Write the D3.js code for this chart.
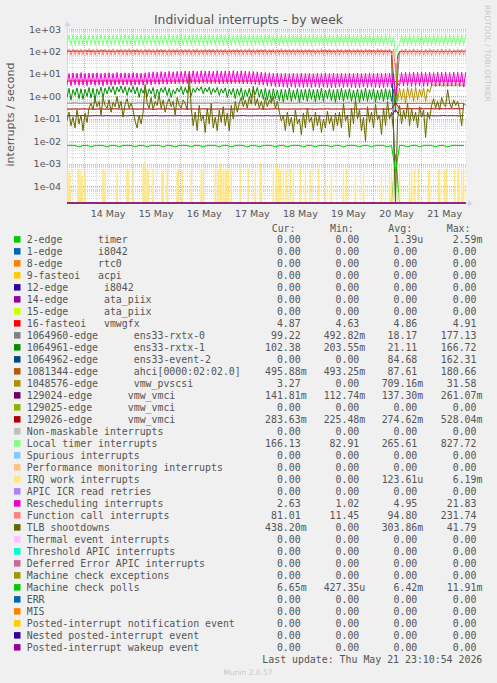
<!DOCTYPE html>
<html><head><meta charset="utf-8">
<script src="https://cdn.jsdelivr.net/npm/d3@7"></script>
<style>
html,body{margin:0;padding:0;background:#F0F0F0;}
svg{display:block;}
text{font-family:"DejaVu Sans",sans-serif;}
.mono{font-family:"DejaVu Sans Mono",monospace;white-space:pre;}
</style></head><body>
<svg id="c" width="497" height="683"></svg>
<script>
// ---------------- DATA ----------------
const title = "Individual interrupts - by week";
const yAxisLabel = "interrupts / second";
const startTime = "2026-05-13T15:30:00Z";
const endTime   = "2026-05-21T22:40:00Z";
const yMin = 1.82e-5, yMax = 1000;
const yTickValues = [1e3,1e2,1e1,1e0,1e-1,1e-2,1e-3,1e-4];
const yTickLabels = ["1e+03","1e+02","1e+01","1e+00","1e-01","1e-02","1e-03","1e-04"];

const legendLabels = ["2-edge      timer","1-edge      i8042","8-edge      rtc0","9-fasteoi   acpi","12-edge      i8042","14-edge      ata_piix","15-edge      ata_piix","16-fasteoi   vmwgfx","1064960-edge      ens33-rxtx-0","1064961-edge      ens33-rxtx-1","1064962-edge      ens33-event-2","1081344-edge      ahci[0000:02:02.0]","1048576-edge      vmw_pvscsi","129024-edge      vmw_vmci","129025-edge      vmw_vmci","129026-edge      vmw_vmci","Non-maskable interrupts","Local timer interrupts","Spurious interrupts","Performance monitoring interrupts","IRQ work interrupts","APIC ICR read retries","Rescheduling interrupts","Function call interrupts","TLB shootdowns","Thermal event interrupts","Threshold APIC interrupts","Deferred Error APIC interrupts","Machine check exceptions","Machine check polls","ERR","MIS","Posted-interrupt notification event","Nested posted-interrupt event","Posted-interrupt wakeup event"];
const seriesColors = ["#00CC00","#0066B3","#FF8000","#FFCC00","#330099","#990099","#CCFF00","#FF0000","#808080","#008F00","#00487D","#B35A00","#B38F00","#6B006B","#8FB300","#B30000","#BEBEBE","#80FF80","#80C9FF","#FFC080","#FFE680","#AA80FF","#EE00CC","#FF8080","#666600","#FFBFFF","#00FFCC","#CC6699","#999900","#00CC00","#0066B3","#FF8000","#FFCC00","#330099","#990099"];
const curVals = ["0.00","0.00","0.00","0.00","0.00","0.00","0.00","4.87","99.22","102.38","0.00","495.88m","3.27","141.81m","0.00","283.63m","0.00","166.13","0.00","0.00","0.00","0.00","2.63","81.01","438.20m","0.00","0.00","0.00","0.00","6.65m","0.00","0.00","0.00","0.00","0.00"];
const minVals = ["0.00","0.00","0.00","0.00","0.00","0.00","0.00","4.63","492.82m","203.55m","0.00","493.25m","0.00","112.74m","0.00","225.48m","0.00","82.91","0.00","0.00","0.00","0.00","1.02","11.45","0.00","0.00","0.00","0.00","0.00","427.35u","0.00","0.00","0.00","0.00","0.00"];
const avgVals = ["1.39u","0.00","0.00","0.00","0.00","0.00","0.00","4.86","18.17","21.11","84.68","87.61","709.16m","137.30m","0.00","274.62m","0.00","265.61","0.00","0.00","123.61u","0.00","4.95","94.80","303.86m","0.00","0.00","0.00","0.00","6.42m","0.00","0.00","0.00","0.00","0.00"];
const maxVals = ["2.59m","0.00","0.00","0.00","0.00","0.00","0.00","4.91","177.13","166.72","162.31","180.66","31.58","261.07m","0.00","528.04m","0.00","827.72","0.00","0.00","6.19m","0.00","21.83","231.74","41.79","0.00","0.00","0.00","0.00","11.91m","0.00","0.00","0.00","0.00","0.00"];
const lastUpdate = "Last update: Thu May 21 23:10:54 2026";

// hourly samples (hour 0 .. 199)
const localTimer = [
205,530,198,545,202,520,200,555,196,535,204,525,199,540,203,515,197,550,201,530,
206,520,199,545,203,535,197,525,201,555,205,530,198,540,202,520,200,550,196,535,
203,525,199,545,204,530,197,520,202,540,200,555,198,525,205,535,196,545,201,530,
204,520,199,540,202,550,197,530,205,525,200,545,198,535,203,520,201,555,196,530,
202,545,199,525,204,535,197,550,201,520,205,540,198,530,203,545,200,525,196,535,
204,550,199,530,202,520,197,545,205,535,200,525,198,555,203,530,201,540,196,520,
202,535,199,550,204,525,197,540,201,530,205,545,198,520,203,535,200,550,196,525,
204,540,199,530,202,545,197,520,205,535,200,550,198,525,203,540,201,530,196,545,
202,525,199,480,85,160,205,540,198,530,203,545,200,520,196,535,204,550,201,525,
199,540,203,530,197,545,205,520,200,535,198,550,202,525,204,540,196,530,201,545];
const functionCall = [
72,128,70,132,74,125,71,130,73,127,69,133,72,126,70,131,74,128,71,129,
73,127,70,132,72,125,74,130,71,128,69,133,73,126,70,131,72,127,74,129,
71,130,73,126,70,132,72,128,74,125,71,131,69,127,73,133,70,129,72,126,
74,130,71,128,73,132,70,125,72,131,69,127,74,129,71,133,73,126,70,130,
72,128,74,125,71,132,73,127,70,130,72,133,69,126,74,131,71,128,73,129,
70,127,72,131,74,126,71,133,73,128,70,125,72,130,69,132,74,127,71,129,
73,131,70,126,72,128,74,133,71,125,73,130,70,127,72,132,69,129,74,126,
71,130,73,127,70,132,72,125,74,131,71,128,73,126,70,133,72,129,69,127,
74,130,71,128,12,40,73,126,70,131,72,127,74,132,71,125,73,130,70,128,
72,133,69,126,74,129,71,131,73,127,70,132,72,125,74,130,71,128,73,129];
const rescheduling = [
3.2,10.5,3.0,11.2,3.3,10.8,3.1,11.5,3.2,10.6,3.0,11.0,3.3,10.9,3.1,11.3,3.2,10.7,3.0,11.1,
3.3,11.4,3.1,10.8,3.2,11.6,3.4,11.0,3.2,11.2,3.3,10.9,3.1,11.5,3.2,11.0,3.3,10.8,3.2,11.3,
3.4,11.8,3.3,12.5,3.5,12.0,3.4,12.8,3.6,12.2,3.5,13.0,3.7,12.6,3.6,13.2,3.8,12.9,3.7,13.5,
3.8,13.2,3.9,13.8,3.7,13.0,3.8,14.0,3.9,13.4,3.8,13.6,3.7,13.1,3.8,13.9,3.6,13.3,3.7,13.7,
3.8,13.5,3.7,14.1,3.9,13.2,3.8,13.8,3.6,13.4,3.7,13.0,3.5,12.8,3.4,12.5,3.3,12.0,3.2,11.6,
3.0,11.2,2.9,10.8,2.8,11.0,2.7,10.6,2.6,10.9,2.5,10.4,2.6,10.8,2.5,10.5,2.6,11.0,2.5,10.6,
2.6,10.8,2.5,10.3,2.6,10.9,2.5,10.5,2.6,11.1,2.5,10.6,2.4,10.9,2.5,10.4,2.6,10.8,2.5,10.5,
2.6,11.0,2.5,10.6,2.4,10.9,2.5,10.4,2.6,10.8,2.5,11.2,2.6,10.5,2.5,10.9,2.4,10.6,2.5,11.0,
2.6,10.7,2.5,10.9,1.02,4.0,3.0,11.5,2.9,12.0,3.0,11.6,2.8,12.2,2.9,11.8,3.0,12.1,2.8,11.7,
2.9,12.0,3.0,11.5,2.8,12.3,2.9,11.8,3.0,12.1,2.8,11.6,2.9,12.2,3.0,11.9,2.8,12.0,2.6,11.8];
const rxtx1 = [
0.9,2.3,0.7,2.0,1.1,2.4,0.8,2.2,0.75,2.1,1.0,2.5,0.85,2.3,0.7,2.2,1.2,2.6,0.9,2.4,
1.3,2.7,1.5,2.8,1.2,2.6,1.6,2.9,1.4,2.7,1.1,2.5,1.5,2.8,1.3,2.6,0.9,2.3,1.4,2.7,
1.0,2.2,1.3,2.5,0.8,2.1,1.2,2.4,1.5,2.6,1.1,2.3,0.9,2.0,1.3,2.4,1.6,2.7,1.2,2.5,
1.4,2.6,1.1,2.3,1.5,2.5,1.8,2.7,1.3,2.4,1.6,2.6,1.2,2.3,1.5,2.5,1.1,2.2,1.4,2.4,
0.9,2.1,1.2,2.3,0.8,2.2,1.1,2.4,0.7,2.0,1.0,2.3,0.85,2.2,1.2,2.5,0.9,2.1,0.75,2.3,
0.7,2.0,0.6,2.2,0.8,1.9,0.65,2.1,0.55,2.0,0.7,2.3,0.6,1.9,0.75,2.2,0.55,2.0,0.7,2.1,
0.6,2.2,0.75,2.0,0.55,2.1,0.7,2.3,0.6,1.9,0.8,2.2,0.65,2.0,0.55,2.1,0.7,2.3,0.6,2.0,
0.75,2.2,0.6,1.9,0.7,2.1,0.55,2.0,0.65,2.3,0.6,2.0,0.75,2.2,0.55,1.9,0.7,2.1,0.6,2.2,
0.7,2.0,0.6,2.1,0.2,60,98,104,101,106,99,103,100,107,102,98,104,101,99,105,
103,100,106,98,102,104,99,107,101,103,100,105,98,102,104,99,106,101,103,102];
const tlbShootdowns = [
0.08,0.2,0.05,0.12,0.04,0.25,0.06,0.15,0.03,0.18,0.07,0.3,
0.5,0.25,0.8,0.35,0.6,0.15,0.9,0.4,0.3,0.7,0.2,0.55,0.35,1.0,0.3,0.6,0.12,0.45,0.8,0.3,0.5,0.25,
0.08,0.04,0.15,0.06,0.2,
3.4,0.5,0.3,0.9,0.25,0.6,0.4,1.2,0.3,0.7,0.2,0.5,0.8,0.35,0.6,0.15,0.9,0.4,0.3,0.7,0.5,0.25,9.5,
0.3,0.05,0.2,0.03,0.4,0.08,0.15,0.025,0.3,0.06,0.5,0.04,0.12,0.03,0.25,0.07,0.35,0.05,0.18,0.03,0.4,0.1,0.6,0.2,
0.5,0.9,0.35,0.7,0.3,1.0,0.45,2.8,0.4,0.8,0.3,0.6,0.25,0.9,0.35,0.7,0.5,1.0,0.3,0.6,0.2,
0.08,0.15,0.03,0.2,0.05,0.12,0.025,0.25,0.06,0.1,0.02,0.18,0.04,0.3,0.07,0.12,0.03,0.2,0.05,0.15,0.025,0.1,0.04,0.22,0.06,0.13,0.03,0.18,0.05,
0.2,0.04,0.5,0.08,0.15,0.015,0.3,0.06,0.8,0.1,0.25,0.03,0.12,0.01,0.35,0.07,0.2,0.04,0.45,0.09,0.15,0.02,0.3,0.05,0.6,0.1,0.2,0.03,
0,
0.1,0.4,0.06,0.25,0.1,0.5,0.05,0.3,0.08,0.2,0.04,0.35,0.12,0.25,0.015,0.2,0.1,
0.4,0.8,0.3,0.6,0.25,0.9,0.45,0.35,2.0,0.5,0.3,0.7,0.4,0.6,0.25,0.05,0.5,0.4];
// vmw_pvscsi exists from hour 164 on (after the reboot)
const pvscsiFromHour = 164;
const pvscsi = [30,
0.6,2.4,0.7,2.2,0.5,2.5,0.8,2.3,0.6,2.6,0.7,2.1,0.9,2.4,0.6,2.2,1.5,
3.1,3.3,3.0,3.2,3.4,3.1,3.0,3.3,3.2,3.1,3.4,3.0,3.2,3.3,3.1,3.2,3.0,3.27];

// two-hourly samples (hour 0,2,...,198)
const rxtx0 = [
0.51,0.50,0.52,0.50,0.51,0.50,0.51,0.52,0.50,0.51,0.50,0.51,0.50,0.52,0.51,0.50,0.51,0.50,0.52,0.51,
0.50,0.51,0.50,0.51,0.52,0.50,0.51,0.50,0.51,0.50,0.52,0.51,0.50,0.51,0.50,0.51,0.50,0.52,0.51,0.50,
0.51,0.50,0.52,0.50,0.51,0.50,0.51,0.52,0.50,0.51,0.50,0.51,0.50,0.52,0.51,0.50,0.51,0.50,0.52,0.51,
0.50,0.51,0.50,0.51,0.52,0.50,0.51,0.50,0.51,0.50,0.52,0.51,0.50,0.51,0.50,0.51,0.50,0.52,0.51,0.50,
0.51,0.50,0.49,99,100,98,101,99,100,98,99,101,100,99,98,100,99,101,100,99];
const event2 = [
102,99,104,98,101,103,100,97,102,105,99,101,98,103,100,104,99,102,101,98,
103,100,97,102,104,99,101,98,103,100,105,99,102,100,98,104,101,99,103,100,
98,102,104,99,101,103,100,97,102,105,99,101,98,103,100,104,99,102,101,98,
103,100,97,102,104,99,101,98,103,100,105,99,102,100,98,104,101,99,103,100,
101,99,0,0,0,0,0,0,0,0,0,0,0,0,0,0,0,0,0,0];
const ahci = [
106,104,107,105,103,106,108,104,105,107,104,106,103,107,105,104,106,108,105,103,
107,105,104,106,108,103,105,107,104,106,105,103,107,104,106,105,108,104,103,106,
104,106,105,107,103,105,106,104,108,105,103,107,104,106,105,104,107,103,106,105,
105,107,104,103,106,108,105,104,106,103,107,105,104,106,105,103,108,104,106,105,
105,104,0.50,0.49,0.50,0.50,0.49,0.50,0.50,0.49,0.50,0.50,0.49,0.50,0.50,0.49,0.50,0.50,0.49,0.50];
const vmci129024 = [
0.137,0.139,0.136,0.138,0.141,0.137,0.136,0.139,0.138,0.137,0.140,0.136,0.138,0.137,0.139,0.136,0.142,0.138,0.137,0.139,
0.136,0.138,0.140,0.137,0.136,0.139,0.138,0.137,0.141,0.136,0.138,0.139,0.137,0.136,0.140,0.138,0.137,0.139,0.136,0.138,
0.137,0.139,0.136,0.138,0.141,0.137,0.136,0.139,0.138,0.137,0.140,0.136,0.138,0.137,0.139,0.136,0.142,0.138,0.137,0.139,
0.136,0.138,0.140,0.137,0.136,0.139,0.138,0.137,0.141,0.136,0.138,0.139,0.137,0.136,0.140,0.138,0.137,0.139,0.136,0.138,
0.137,0.139,0.26,0.140,0.138,0.137,0.139,0.136,0.138,0.140,0.137,0.139,0.136,0.138,0.141,0.137,0.139,0.138,0.136,0.142];
const vmci129026 = [
0.275,0.272,0.278,0.274,0.280,0.273,0.276,0.271,0.279,0.275,0.273,0.277,0.282,0.274,0.276,0.272,0.278,0.275,0.273,0.279,
0.276,0.274,0.271,0.278,0.275,0.281,0.273,0.276,0.274,0.279,0.272,0.277,0.275,0.273,0.280,0.274,0.276,0.272,0.278,0.275,
0.275,0.272,0.278,0.274,0.280,0.273,0.276,0.271,0.279,0.275,0.273,0.277,0.282,0.274,0.276,0.272,0.278,0.275,0.273,0.279,
0.276,0.274,0.271,0.278,0.275,0.281,0.273,0.276,0.274,0.279,0.272,0.277,0.275,0.273,0.280,0.274,0.276,0.272,0.278,0.275,
0.274,0.276,0.53,0.280,0.283,0.279,0.285,0.281,0.284,0.280,0.286,0.282,0.279,0.284,0.281,0.285,0.280,0.283,0.282,0.284];
const vmwgfx = [
4.87,4.86,4.88,4.87,4.87,4.86,4.88,4.87,4.86,4.87,4.88,4.87,4.86,4.87,4.87,4.88,4.86,4.87,4.87,4.86,
4.88,4.87,4.86,4.87,4.87,4.88,4.86,4.87,4.87,4.86,4.88,4.87,4.86,4.87,4.87,4.88,4.86,4.87,4.87,4.86,
4.87,4.86,4.88,4.87,4.87,4.86,4.88,4.87,4.86,4.87,4.88,4.87,4.86,4.87,4.87,4.88,4.86,4.87,4.87,4.86,
4.88,4.87,4.86,4.87,4.87,4.88,4.86,4.87,4.87,4.86,4.88,4.87,4.86,4.87,4.87,4.88,4.86,4.87,4.87,4.86,
4.87,4.86,4.63,4.85,4.86,4.87,4.88,4.87,4.86,4.87,4.87,4.88,4.86,4.87,4.87,4.86,4.88,4.87,4.86,4.87];
const mcPolls = [
0.0066,0.0067,0.0066,0.0057,0.0066,0.0067,0.0057,0.0066,0.0067,0.0066,
0.0057,0.0066,0.0067,0.0057,0.0066,0.0067,0.0066,0.0057,0.0067,0.0066,
0.0057,0.0066,0.0067,0.0066,0.0057,0.0067,0.0066,0.0057,0.0066,0.0067,
0.0066,0.0057,0.0067,0.0066,0.0057,0.0066,0.0067,0.0066,0.0057,0.0067,
0.0066,0.0057,0.0066,0.0067,0.0066,0.0057,0.0067,0.0066,0.0057,0.0066,
0.0067,0.0066,0.0057,0.0066,0.0067,0.0057,0.0066,0.0067,0.0066,0.0057,
0.0067,0.0066,0.0057,0.0066,0.0067,0.0066,0.0057,0.0067,0.0066,0.0057,
0.0066,0.0067,0.0066,0.0057,0.0067,0.0066,0.0057,0.0066,0.0067,0.0066,
0.0057,0.0066,0.00043,0.0067,0.0066,0.0057,0.0066,0.0067,0.0057,0.0066,
0.0067,0.0066,0.0057,0.0066,0.0067,0.0057,0.0066,0.0067,0.0066,0.0066];
const timerEdge2 = [
0,0,0,0,0,0,0,0,0,0,0,0,0,0,0,0,0,0,0,0,
0,0,0,0,0,0,0,0,0,0,0,0,0,0,0,0,0,0,0,0,
0,0,0,0,0,0,0,0,0,0,0,0,0,0,0,0,0,0,0,0,
0,0,0,0,0,0,0,0,0,0,0,0,0,0,0,0,0,0,0,0,
0,0,0.0026,0,0,0,0,0,0,0,0,0,0,0,0,0,0,0,0,0];
// IRQ work: zero except short bursts (hour, value)
const irqWorkHours = [0.5,1.5,5.5,6.5,7.5,9,18,19,25,30,30.5,33,38,39,40,40.5,43,47.5,48,50,55,55.5,57.5,
62,67,68,74,75.5,76.5,77,78,79,79.5,80.5,82,86.5,90.5,94,96.5,97,103,104.5,105.5,106.5,108,109.5,111.5,113,116.5,119,121.5,125.5,129,
132,138,139.5,144,148,157,161,162,163,166,171,172,173.5,175.5,180.5,181,185.5,186,188.5,189.5,193.5,195.5,197,198];
const irqWorkValues = [5e-4,4e-4,6e-4,5e-4,3e-4,5e-4,6e-4,5e-4,4e-4,6e-4,5e-4,5e-4,8e-4,1.2e-3,6e-4,5e-4,6e-4,5e-4,4e-4,6e-4,5e-4,6e-4,5e-4,
5e-4,6e-4,5e-4,6e-4,5e-4,1.1e-3,6e-4,5e-4,6e-4,5e-4,6e-4,5e-4,6e-4,6e-4,5e-4,1.1e-3,6e-4,5e-4,1e-3,6e-4,5e-4,6e-4,5e-4,6e-4,5e-4,6e-4,5e-4,5e-4,6e-4,5e-4,
6e-4,5e-4,6e-4,5e-4,6e-4,5e-4,6e-4,9e-4,5e-4,6e-4,5e-4,6e-4,5e-4,6e-4,5e-4,6e-4,5e-4,6e-4,5e-4,6e-4,5e-4,6e-4,5e-4,6e-4];
// series whose every sample is zero
const zeroValues = [0, 0];

// ---------------- DRAWING ----------------
const W=497,H=683;
const plot={left:67,right:466,top:29,bottom:203};
const svg=d3.select("#c");
svg.append("rect").attr("width",W).attr("height",H).attr("fill","#F0F0F0");
svg.append("rect").attr("x",plot.left).attr("y",plot.top).attr("width",plot.right-plot.left).attr("height",plot.bottom-plot.top).attr("fill","#FFFFFF");

const HOUR=3600e3;
const T0=new Date(startTime).getTime(), T1=new Date(endTime).getTime();
const x=d3.scaleUtc().domain([new Date(T0),new Date(T1)]).range([plot.left,plot.right]);
const y=d3.scaleLog().domain([yMin,yMax]).range([plot.bottom,plot.top]);
const yv=v=> v>0 ? y(Math.max(v,yMin)) : plot.bottom;
const crisp=v=>Math.round(v)+0.5;

// grid
const grid=svg.append("g").attr("shape-rendering","crispEdges");
for(let e=-5;e<3;e++){
  for(let k=2;k<=9;k++){
    const v=k*Math.pow(10,e);
    if(v<yMin||v>yMax) continue;
    grid.append("line").attr("x1",plot.left).attr("x2",plot.right).attr("y1",crisp(y(v))).attr("y2",crisp(y(v)))
      .attr("stroke","#d8d8d8").attr("stroke-dasharray","1,1");
  }
}
d3.utcHour.every(6).range(new Date(T0),new Date(T1)).forEach(d=>{
  grid.append("line").attr("x1",crisp(x(d))).attr("x2",crisp(x(d))).attr("y1",plot.top).attr("y2",plot.bottom)
    .attr("stroke","#d8d8d8").attr("stroke-dasharray","1,1");
});
yTickValues.forEach(v=>{
  grid.append("line").attr("x1",plot.left).attr("x2",plot.right).attr("y1",crisp(y(v))).attr("y2",crisp(y(v)))
    .attr("stroke","#f0a0a0").attr("stroke-dasharray","1,1");
});
d3.utcDay.range(new Date(T0),new Date(T1)).forEach(d=>{
  grid.append("line").attr("x1",crisp(x(d))).attr("x2",crisp(x(d))).attr("y1",plot.top).attr("y2",plot.bottom)
    .attr("stroke","#f0a0a0").attr("stroke-dasharray","1,1");
});

// axes
const axisColor="#CFD6F8";
svg.append("line").attr("x1",plot.left+0.5).attr("x2",plot.left+0.5).attr("y1",plot.bottom).attr("y2",plot.top-4).attr("stroke",axisColor);
svg.append("line").attr("x1",plot.left).attr("x2",plot.right+4).attr("y1",plot.bottom+0.5).attr("y2",plot.bottom+0.5).attr("stroke",axisColor);
svg.append("path").attr("d",`M${plot.left-2.5},${plot.top-3}L${plot.left+3.5},${plot.top-3}L${plot.left+0.5},${plot.top-8}Z`).attr("fill",axisColor);
svg.append("path").attr("d",`M${plot.right+2},${plot.bottom-2.5}L${plot.right+2},${plot.bottom+3.5}L${plot.right+7},${plot.bottom+0.5}Z`).attr("fill",axisColor);

// series
svg.append("clipPath").attr("id","clip").append("rect").attr("x",plot.left).attr("y",plot.top-1).attr("width",plot.right-plot.left+1).attr("height",plot.bottom-plot.top+2);
const gs=svg.append("g").attr("clip-path","url(#clip)");
const pts=(arr,step,from)=>arr.map((v,j)=>({t:new Date(T0+(from+j*step)*HOUR),v}));
const line=d3.line().x(d=>x(d.t)).y(d=>yv(d.v));
const seriesData={
  0:pts(timerEdge2,2,0), 7:pts(vmwgfx,2,0), 8:pts(rxtx0,2,0), 9:pts(rxtx1,1,0),
  10:pts(event2,2,0), 11:pts(ahci,2,0), 12:pts(pvscsi,1,pvscsiFromHour), 13:pts(vmci129024,2,0),
  15:pts(vmci129026,2,0), 17:pts(localTimer,1,0), 22:pts(rescheduling,1,0), 23:pts(functionCall,1,0),
  24:pts(tlbShootdowns,1,0), 29:pts(mcPolls,2,0)
};
seriesColors.forEach((c,i)=>{
  if(i===20){
    irqWorkHours.forEach((h,k)=>{
      const p=[{t:new Date(T0+(h-0.25)*HOUR),v:0},{t:new Date(T0+h*HOUR),v:irqWorkValues[k]},{t:new Date(T0+(h+0.25)*HOUR),v:0}];
      gs.append("path").attr("d",line(p)).attr("fill","none").attr("stroke",c).attr("stroke-width",1);
    });
    return;
  }
  const d=seriesData[i]||pts(zeroValues,199,0);
  gs.append("path").attr("d",line(d)).attr("fill","none").attr("stroke",c).attr("stroke-width",1).attr("stroke-linejoin","round");
});

// texts
const txtColor="#555";
svg.append("text").attr("x",248.5).attr("y",23.6).attr("text-anchor","middle").attr("font-size","12.4px").attr("fill",txtColor).text(title);
svg.append("text").attr("transform","translate(14,114.5) rotate(-90)").attr("text-anchor","middle").attr("font-size","11px").attr("fill",txtColor).text(yAxisLabel);
yTickValues.forEach((v,i)=>{
  svg.append("text").attr("x",61).attr("y",y(v)+3.5).attr("text-anchor","end").attr("font-size","9.5px").attr("fill",txtColor).text(yTickLabels[i]);
});
d3.utcDay.range(new Date(T0-24*HOUR),new Date(T1)).map(d=>d3.utcHour.offset(d,12)).filter(d=>d>=T0&&d<=T1).forEach(d=>{
  svg.append("text").attr("x",x(d)).attr("y",216.8).attr("text-anchor","middle").attr("font-size","9.5px").attr("fill",txtColor).text(d3.utcFormat("%d %b")(d));
});
svg.append("text").attr("transform","translate(485,5) rotate(90)").attr("font-size","7.5px").attr("fill","#c8c8c8").text("RRDTOOL / TOBI OETIKER");
svg.append("text").attr("x",248).attr("y",674.5).attr("text-anchor","middle").attr("font-size","7.5px").attr("fill","#c8c8c8").text("Munin 2.0.57");

// legend
const lg=svg.append("g").attr("class","mono").attr("font-size","9.9px").attr("fill",txtColor);
const headX=[271.7,330,388.3,446.7], numRight=[300.7,359.3,417.3,476.5];
["Cur:","Min:","Avg:","Max:"].forEach((h,i)=>lg.append("text").attr("class","mono").attr("x",headX[i]).attr("y",231.9).text(h));
const cols=[curVals,minVals,avgVals,maxVals];
legendLabels.forEach((lab,i)=>{
  const cy=239.3+12*i;
  lg.append("rect").attr("x",14).attr("y",cy-3.2).attr("width",6.5).attr("height",6.5).attr("fill",seriesColors[i]);
  lg.append("text").attr("class","mono").attr("x",26.7).attr("y",cy+3.6).text(lab);
  cols.forEach((col,c)=>{
    const s=col[i]; const last=s[s.length-1];
    const hasSuf=/[a-zA-Z]/.test(last);
    const num=hasSuf?s.slice(0,-1):s;
    lg.append("text").attr("class","mono").attr("x",numRight[c]).attr("y",cy+3.6).attr("text-anchor","end").text(num);
    if(hasSuf) lg.append("text").attr("class","mono").attr("x",numRight[c]).attr("y",cy+3.6).text(last);
  });
});
lg.append("text").attr("class","mono").attr("x",482.3).attr("y",662.9).attr("text-anchor","end").text(lastUpdate);
</script></body></html>
